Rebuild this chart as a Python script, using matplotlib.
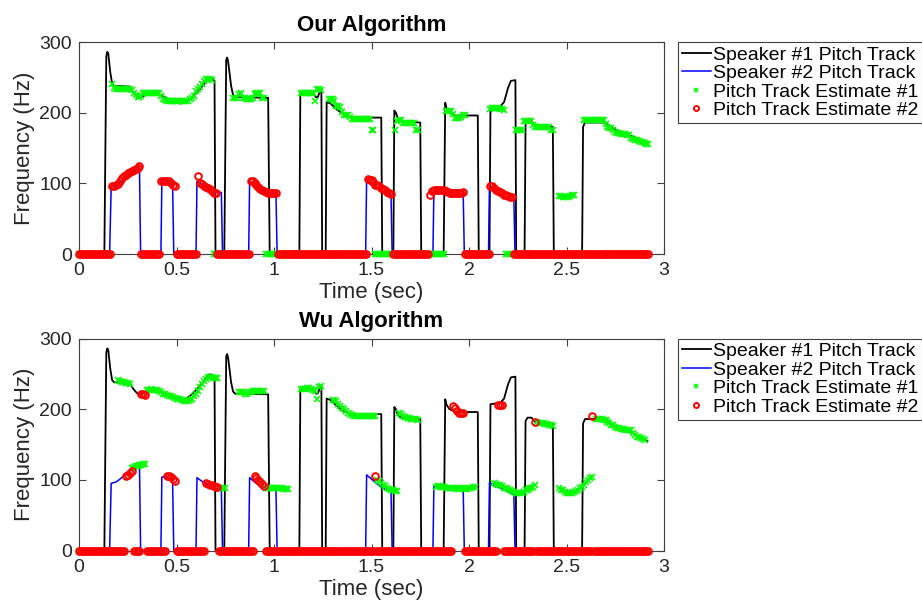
import numpy as np
import matplotlib
matplotlib.use('Agg')
import matplotlib.pyplot as plt

plt.rcParams['font.family'] = ['Liberation Sans', 'DejaVu Sans']

# ---------------- data ----------------
frame_step = 0.01
n_frames = 293
frame_t = np.arange(n_frames) * frame_step

# ground-truth pitch tracks (breakpoints)
spk1_t = [0, 0.13, 0.14, 0.145, 0.15, 0.16, 0.17, 0.18, 0.26, 0.28, 0.30, 0.32, 0.35, 0.38, 0.41, 0.44,
          0.47, 0.52, 0.55, 0.58, 0.61, 0.64, 0.665, 0.68, 0.695, 0.70, 0.745, 0.755, 0.76, 0.765,
          0.78, 0.79, 0.80, 0.97, 0.978, 1.13, 1.135, 1.20, 1.215, 1.225, 1.238, 1.243, 1.247, 1.265,
          1.27, 1.29, 1.32, 1.36, 1.40, 1.55, 1.555, 1.612, 1.617, 1.625, 1.635, 1.65, 1.75, 1.755,
          1.87, 1.878, 1.885, 1.90, 1.93, 2.045, 2.05, 2.105, 2.11, 2.16, 2.18, 2.20, 2.215, 2.238,
          2.242, 2.285, 2.29, 2.30, 2.32, 2.34, 2.43, 2.435, 2.58, 2.585, 2.595, 2.70, 2.73, 2.76,
          2.80, 2.84, 2.88, 2.915]
spk1_f = [0, 0, 280, 286, 284, 258, 241, 238, 237, 228, 222, 222, 226, 228, 226, 222,
          217, 213, 215, 221, 230, 240, 249, 249, 245, 0, 0, 275, 278, 272,
          238, 225, 222, 221, 0, 0, 228, 228, 222, 222, 233, 233, 0, 0,
          215, 213, 205, 197, 193, 193, 0, 0, 203, 200, 192, 188, 186, 0,
          0, 214, 206, 200, 196, 196, 0, 0, 207, 209, 215, 235, 245, 246,
          0, 0, 183, 188, 188, 182, 180, 0, 0, 180, 186, 186, 179, 175,
          170, 166, 160, 155]

spk2_t = [0, 0.157, 0.165, 0.19, 0.21, 0.24, 0.27, 0.30, 0.31, 0.316, 0.42, 0.425, 0.45, 0.47, 0.48,
          0.486, 0.60, 0.605, 0.63, 0.66, 0.69, 0.73, 0.736, 0.87, 0.875, 0.90, 0.93, 0.96, 1.01,
          1.016, 1.47, 1.475, 1.50, 1.53, 1.56, 1.60, 1.606, 1.815, 1.82, 1.97, 1.976, 2.10, 2.105,
          2.13, 2.17, 2.20, 2.23, 2.236, 2.92]
spk2_f = [0, 0, 95, 97, 101, 108, 115, 121, 124, 0, 0, 104, 104, 101, 97,
          0, 0, 103, 98, 93, 88, 87, 0, 0, 103, 97, 91, 88, 87,
          0, 0, 107, 101, 94, 88, 84, 0, 0, 91, 90, 0, 0, 96,
          92, 88, 84, 79, 0, 0]

# per-frame estimates (10 ms frames), "Our Algorithm"
our_est1 = [0, 0, 0, 0, 0, 0, 0, 0, 0, 0,
            0, 0, 0, 0, 0, 0, 0, 241, 235, 234,
            234, 234, 234, 234, 234, 234, 233, 232, 228, 225,
            222, 222, 224, 228, 228, 228, 228, 228, 228, 228,
            228, 228, 224, 220, 218, 216, 216, 216, 216, 216,
            216, 216, 216, 216, 216, 216, 217, 219, 221, 224,
            230, 234, 237, 241, 245, 247, 247, 247, 246, 0,
            0, 0, 0, 0, 0, 0, 0, 0, 0, 221,
            221, 221, 226, 228, 221, 221, 219, 220, 220, 221,
            227, 228, 228, 228, 221, 221, 0, 0, 0, 0,
            0, 0, 0, 0, 0, 0, 0, 0, 0, 0,
            0, 0, 0, 0, 228, 228, 228, 228, 228, 228,
            228, 216, 233, 233, 232, 0, 0, 0, 219, 219,
            219, 216, 210, 209, 208, 201, 197, 197, 196, 194,
            191, 191, 191, 191, 191, 191, 191, 191, 191, 191,
            176, 176, 0, 0, 0, 0, 0, 0, 0, 0,
            0, 0, 176, 188, 190, 190, 186, 186, 186, 186,
            186, 186, 186, 175, 175, 0, 0, 0, 0, 0,
            0, 0, 0, 0, 0, 0, 0, 0, 202, 202,
            202, 202, 198, 193, 193, 193, 194, 196, 196, 0,
            0, 0, 0, 0, 0, 0, 0, 0, 0, 0,
            0, 205, 206, 207, 207, 206, 205, 205, 204, 0,
            0, 0, 0, 0, 175, 175, 175, 175, 188, 188,
            188, 188, 188, 182, 180, 180, 180, 180, 180, 180,
            180, 180, 175, 175, 0, 0, 82, 82, 81, 81,
            81, 81, 82, 83, 83, 0, 0, 0, 0, 190,
            190, 190, 190, 190, 190, 190, 190, 190, 190, 190,
            184, 180, 178, 178, 176, 172, 171, 171, 170, 170,
            170, 169, 168, 164, 163, 162, 161, 160, 159, 158,
            157, 156, 155]
our_est2 = [0, 0, 0, 0, 0, 0, 0, 0, 0, 0,
            0, 0, 0, 0, 0, 0, 0, 96, 96, 97,
            99, 103, 107, 110, 112, 114, 116, 118, 119, 120,
            121, 124, 0, 0, 0, 0, 0, 0, 0, 0,
            0, 0, 104, 104, 104, 104, 103, 100, 97, 96,
            0, 0, 0, 0, 0, 0, 0, 0, 0, 0,
            0, 111, 100, 99, 96, 95, 93, 92, 89, 87,
            86, 0, 0, 0, 0, 0, 0, 0, 0, 0,
            0, 0, 0, 0, 0, 0, 0, 0, 103, 103,
            101, 98, 95, 92, 90, 89, 88, 87, 87, 87,
            87, 87, 0, 0, 0, 0, 0, 0, 0, 0,
            0, 0, 0, 0, 0, 0, 0, 0, 0, 0,
            0, 0, 0, 0, 0, 0, 0, 0, 0, 0,
            0, 0, 0, 0, 0, 0, 0, 0, 0, 0,
            0, 0, 0, 0, 0, 0, 0, 0, 106, 105,
            105, 102, 98, 97, 96, 94, 92, 90, 88, 87,
            85, 0, 0, 0, 0, 0, 0, 0, 0, 0,
            0, 0, 0, 0, 0, 0, 0, 0, 0, 0,
            84, 89, 90, 90, 90, 90, 90, 90, 89, 88,
            87, 86, 86, 86, 86, 86, 87, 88, 0, 0,
            0, 0, 0, 0, 0, 0, 0, 0, 0, 0,
            0, 96, 96, 94, 91, 89, 88, 87, 84, 83,
            82, 81, 80, 0, 0, 0, 0, 0, 0, 0,
            0, 0, 0, 0, 0, 0, 0, 0, 0, 0,
            0, 0, 0, 0, 0, 0, 0, 0, 0, 0,
            0, 0, 0, 0, 0, 0, 0, 0, 0, 0,
            0, 0, 0, 0, 0, 0, 0, 0, 0, 0,
            0, 0, 0, 0, 0, 0, 0, 0, 0, 0,
            0, 0, 0, 0, 0, 0, 0, 0, 0, 0,
            0, 0, 0]

# per-frame estimates (10 ms frames), "Wu Algorithm"
wu_est1 = [0, 0, 0, 0, 0, 0, 0, 0, 0, 0,
           0, 0, 0, 0, 0, 0, 0, 0, 0, 0,
           241, 240, 239, 238, 237, 237, 236, 117, 118, 119,
           120, 121, 121, 122, 122, 227, 227, 228, 227, 227,
           227, 226, 224, 222, 221, 220, 219, 218, 217, 216,
           215, 215, 214, 213, 212, 212, 212, 213, 215, 218,
           222, 226, 231, 236, 240, 243, 245, 246, 245, 244,
           244, 244, 88, 88, 88, 88, 0, 0, 0, 0,
           0, 0, 224, 224, 224, 222, 222, 224, 225, 226,
           226, 226, 226, 226, 226, 226, 88, 88, 88, 88,
           88, 88, 88, 88, 88, 87, 87, 87, 0, 0,
           0, 0, 0, 0, 228, 229, 229, 230, 230, 229,
           227, 226, 215, 231, 233, 0, 0, 0, 0, 0,
           213, 213, 211, 208, 205, 202, 200, 197, 195, 193,
           192, 191, 190, 190, 190, 190, 190, 190, 190, 191,
           191, 191, 191, 100, 98, 95, 93, 91, 89, 87,
           86, 85, 84, 84, 195, 193, 191, 189, 188, 187,
           186, 186, 186, 186, 185, 0, 0, 0, 0, 0,
           0, 0, 0, 90, 91, 91, 90, 90, 89, 89,
           89, 88, 88, 88, 87, 87, 88, 88, 87, 87,
           88, 89, 90, 90, 0, 0, 0, 0, 0, 0,
           0, 0, 0, 95, 94, 93, 92, 91, 89, 88,
           87, 86, 84, 83, 82, 81, 81, 82, 83, 85,
           86, 88, 89, 90, 92, 182, 181, 180, 180, 179,
           179, 178, 177, 176, 0, 0, 88, 86, 85, 83,
           82, 81, 81, 82, 83, 84, 86, 88, 90, 93,
           97, 100, 102, 104, 0, 186, 186, 186, 186, 185,
           184, 182, 180, 178, 177, 175, 174, 173, 172, 172,
           171, 171, 171, 170, 166, 163, 161, 160, 159, 158,
           157, 0, 0]
wu_est2 = [0, 0, 0, 0, 0, 0, 0, 0, 0, 0,
           0, 0, 0, 0, 0, 0, 0, 0, 0, 0,
           0, 0, 0, 0, 105, 107, 110, 112, 0, 0,
           0, 0, 222, 221, 220, 0, 0, 0, 0, 0,
           0, 0, 0, 0, 0, 106, 106, 104, 101, 99,
           0, 0, 0, 0, 0, 0, 0, 0, 0, 0,
           0, 0, 0, 0, 0, 95, 94, 93, 92, 91,
           90, 90, 0, 0, 0, 0, 0, 0, 0, 0,
           0, 0, 0, 0, 0, 0, 0, 0, 0, 0,
           106, 103, 100, 97, 94, 91, 0, 0, 0, 0,
           0, 0, 0, 0, 0, 0, 0, 0, 0, 0,
           0, 0, 0, 0, 0, 0, 0, 0, 0, 0,
           0, 0, 0, 0, 0, 0, 0, 0, 0, 0,
           0, 0, 0, 0, 0, 0, 0, 0, 0, 0,
           0, 0, 0, 0, 0, 0, 0, 0, 0, 0,
           0, 0, 105, 0, 0, 0, 0, 0, 0, 0,
           0, 0, 0, 0, 0, 0, 0, 0, 0, 0,
           0, 0, 0, 0, 0, 0, 0, 0, 0, 0,
           0, 0, 0, 0, 0, 0, 0, 0, 0, 0,
           0, 0, 205, 202, 198, 195, 194, 194, 0, 0,
           0, 0, 0, 0, 0, 0, 0, 0, 0, 0,
           0, 0, 0, 0, 0, 206, 206, 206, 0, 0,
           0, 0, 0, 0, 0, 0, 0, 0, 0, 0,
           0, 0, 0, 0, 182, 0, 0, 0, 0, 0,
           0, 0, 0, 0, 0, 0, 0, 0, 0, 0,
           0, 0, 0, 0, 0, 0, 0, 0, 0, 0,
           0, 0, 0, 190, 0, 0, 0, 0, 0, 0,
           0, 0, 0, 0, 0, 0, 0, 0, 0, 0,
           0, 0, 0, 0, 0, 0, 0, 0, 0, 0,
           0, 0, 0]

panel_titles = ["Our Algorithm", "Wu Algorithm"]
series_labels = ["Speaker #1 Pitch Track", "Speaker #2 Pitch Track",
                 "Pitch Track Estimate #1", "Pitch Track Estimate #2"]
x_ticks = [0, 0.5, 1, 1.5, 2, 2.5, 3]
x_tick_labels = ["0", "0.5", "1", "1.5", "2", "2.5", "3"]
y_ticks = [0, 100, 200, 300]
y_tick_labels = ["0", "100", "200", "300"]

# ---------------- figure ----------------
W, H = 922, 603
fig = plt.figure(figsize=(W / 100, H / 100), dpi=100)
rects = [[79 / W, 1 - 254 / H, 585 / W, 212 / H],
         [79 / W, 1 - 550.5 / H, 585 / W, 212 / H]]
estimates = [(our_est1, our_est2), (wu_est1, wu_est2)]
axis_col = '#404040'
text_col = '#262626'

for title, (e1, e2), rect in zip(panel_titles, estimates, rects):
    ax = fig.add_axes(rect)
    ax.plot(spk1_t, spk1_f, color='black', lw=1.3, label=series_labels[0])
    ax.plot(spk2_t, spk2_f, color='#0000ff', lw=1.1, label=series_labels[1])
    ax.plot(frame_t, e1, ls='none', marker='x', color='#00ff00', ms=4.5, mew=1.2,
            clip_on=False, label=series_labels[2], zorder=3)
    ax.plot(frame_t, e2, ls='none', marker='o', mfc='none', mec='#ff0000', ms=4.8, mew=1.4,
            clip_on=False, label=series_labels[3], zorder=4)
    ax.set_xlim(0, 3)
    ax.set_ylim(0, 300)
    ax.set_xticks(x_ticks)
    ax.set_xticklabels(x_tick_labels)
    ax.set_yticks(y_ticks)
    ax.set_yticklabels(y_tick_labels)
    ax.tick_params(direction='in', top=True, right=True, labelsize=14, length=5,
                   width=0.8, color=axis_col, labelcolor=text_col)
    ax.tick_params(axis='x', pad=6)
    ax.tick_params(axis='y', pad=5)
    for s in ax.spines.values():
        s.set_color(axis_col)
        s.set_linewidth(0.8)
    ax.set_xlabel("Time (sec)", fontsize=16, color=text_col, labelpad=2)
    ax.set_ylabel("Frequency (Hz)", fontsize=16, color=text_col, labelpad=3)
    ax.set_title(title, fontsize=16, fontweight='bold', pad=8)
    leg = ax.legend(loc='upper left', bbox_to_anchor=(678 / W, rect[1] + rect[3]),
                    bbox_transform=fig.transFigure, borderaxespad=0, fontsize=14,
                    frameon=True, fancybox=False, framealpha=1, edgecolor=axis_col,
                    handlelength=1.5, handletextpad=0.1, labelspacing=0.05,
                    borderpad=0.2, markerscale=0.75)
    leg.get_frame().set_linewidth(0.8)

fig.savefig('out.png', dpi=100)
